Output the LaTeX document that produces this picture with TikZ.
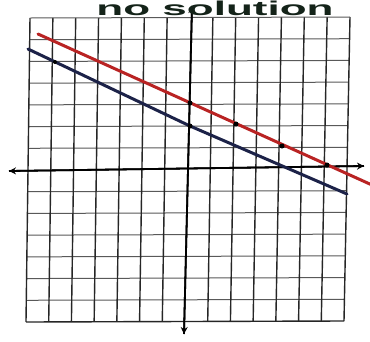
\documentclass[tikz,border=0pt]{standalone}
\usepackage{fontspec}
\setmainfont{Liberation Sans}
\usetikzlibrary{arrows.meta,calc}
\definecolor{redline}{RGB}{185,35,35}
\definecolor{blueline}{RGB}{28,34,72}
\definecolor{ink}{RGB}{20,35,25}
\tikzset{
  vgrid/.style={line width=1.4pt, black!85},
  hgrid/.style={line width=1pt, black!65},
  axis/.style={line width=1.8pt, black, -{Stealth[length=7pt,width=7pt]}},
  solline/.style={line width=3pt, line cap=round},
  dot/.style={circle, fill=black, inner sep=0pt, minimum size=5pt},
}
\begin{document}
\begin{tikzpicture}[x=1pt,y=-1pt]
\useasboundingbox (0,0) rectangle (370,341);
\fill[white] (0,0) rectangle (370,341);
\clip (0,0) rectangle (370,341);
% grid corners
\coordinate (TL) at (30,18);
\coordinate (TR) at (350,17);
\coordinate (BL) at (26,322);
\coordinate (BR) at (344,321);
% horizontal grid lines
\foreach \j in {1,...,13}{
  \ifnum\j=7\else
  \draw[hgrid] ($(TL)!\j/14!(BL)$) -- ($(TR)!\j/14!(BR)$);
  \fi
}
% vertical grid lines
\foreach \i in {1,...,13}{
  \ifnum\i=7\else
  \draw[vgrid] ($(TL)!\i/14!(TR)$) -- ($(BL)!\i/14!(BR)$);
  \fi
}
% border
\draw[vgrid] (TL) -- (BL) (TR) -- (BR) (BL) -- (BR);
\draw[hgrid] (TL) -- (TR);
% axes
\coordinate (xl) at (9,171);
\coordinate (xr) at (364,166);
\coordinate (yt) at (192,6);
\coordinate (yb) at (184,334);
\draw[axis] (yb) -- (yt);
\draw[axis] (yt) -- (yb);
\draw[axis] (xr) -- (xl);
\draw[axis] (xl) -- (xr);
% red line
\coordinate (r1) at (38,34);
\coordinate (r2) at (372,185);
\draw[solline, redline] (r1) -- (r2);
% blue line
\coordinate (b1) at (28,49);
\coordinate (b2) at (190,126);
\coordinate (b3) at (347,194);
\draw[solline, blueline] (b1) -- (b2) -- (b3);
% dots
\node[dot] (d1) at (190,103) {};
\node[dot] (d2) at (236,124) {};
\node[dot] (d3) at (282,146) {};
\node[dot] (d4) at (327,165) {};
\node[dot] (d5) at (190,126) {};
\node[dot, minimum size=4pt] (d6) at (55,62) {};
% title
\node[anchor=base, text=ink, font=\fontsize{20}{22}\selectfont\bfseries, inner sep=0pt] (title) at (215,15.5) {\scalebox{2.2}[1]{no solution}};
\end{tikzpicture}
\end{document}
